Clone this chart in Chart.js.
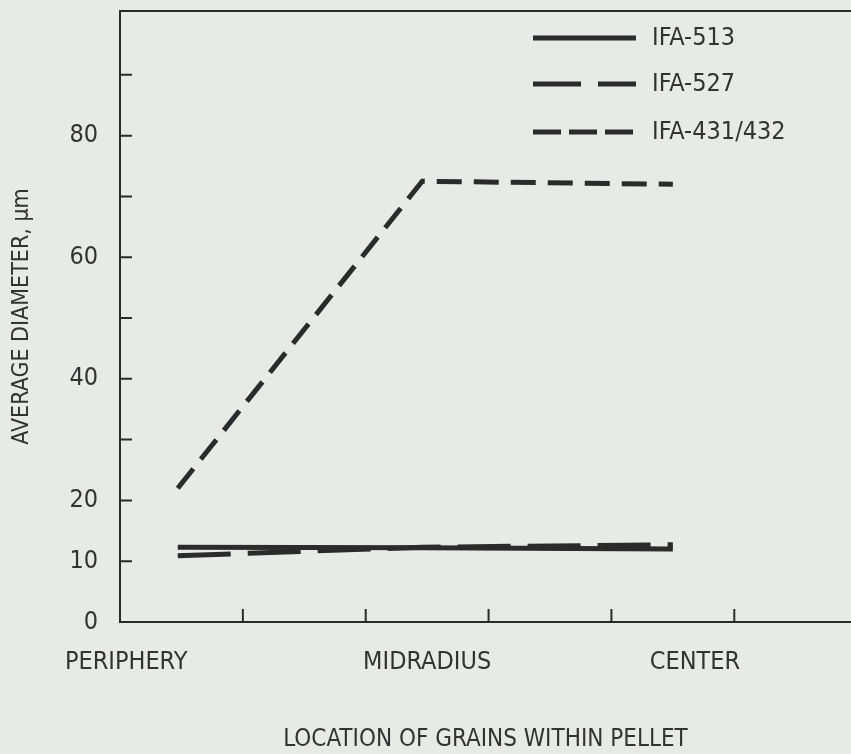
<!DOCTYPE html>
<html>
<head>
<meta charset="utf-8">
<script src="https://cdn.jsdelivr.net/npm/chart.js@4/dist/chart.umd.min.js"></script>
<style>
  html, body { margin: 0; padding: 0; background: #e8eae5; }
  #wrap { width: 851px; height: 754px; }
</style>
</head>
<body>
<div id="wrap"><canvas id="grainChart" width="851" height="754"></canvas></div>
<script>
// 位置 (x 軸) 與數值
const locationLabels = ['PERIPHERY', 'MIDRADIUS', 'CENTER'];
const labelPositions = [0.05, 2.5, 4.68];
const pointPositions = [0.47, 2.46, 4.5];
const ifa513 = [12.3, 12.2, 12.0];
const ifa527 = [10.9, 12.3, 12.7];
const ifa431 = [22, 72.5, 72];
const seriesNames = ['IFA-513', 'IFA-527', 'IFA-431/432'];
const yTickLabels = [0, 10, 20, 40, 60, 80];
const yTickMarks = [10, 20, 30, 40, 50, 60, 70, 80, 90];
const xTickMarks = [1, 2, 3, 4, 5];

const ink = '#2b2b2b';
const fontFamily = "'Liberation Sans Narrow', 'DejaVu Sans Condensed', 'DejaVu Sans', sans-serif";

function toPoints(values) {
    return values.map((v, i) => ({ x: pointPositions[i], y: v }));
}

// 畫內側刻度、上框線、圖例
const framePlugin = {
    id: 'frame',
    afterDraw(chart) {
        const ctx = chart.ctx;
        const xs = chart.scales.x;
        const ys = chart.scales.y;
        const area = chart.chartArea;
        ctx.save();
        ctx.strokeStyle = ink;
        ctx.lineWidth = 2;
        ctx.beginPath();
        ctx.moveTo(area.left, area.top);
        ctx.lineTo(area.right, area.top);
        yTickMarks.forEach(v => {
            const py = ys.getPixelForValue(v);
            ctx.moveTo(area.left, py);
            ctx.lineTo(area.left + 12, py);
        });
        xTickMarks.forEach(v => {
            const px = xs.getPixelForValue(v);
            ctx.moveTo(px, area.bottom);
            ctx.lineTo(px, area.bottom - 13);
        });
        ctx.stroke();

        // 圖例
        const rows = [38, 84, 132];
        chart.data.datasets.forEach((ds, i) => {
            ctx.lineWidth = 5;
            ctx.setLineDash(i === 1 ? [48, 17] : i === 2 ? [28, 8] : []);
            ctx.beginPath();
            ctx.moveTo(533, rows[i]);
            ctx.lineTo(636, rows[i]);
            ctx.stroke();
            ctx.setLineDash([]);
            ctx.fillStyle = '#333';
            ctx.font = '25px ' + fontFamily;
            ctx.textBaseline = 'middle';
            ctx.fillText(ds.label, 652, rows[i]);
        });
        ctx.restore();
    }
};

const lineStyle = {
    borderColor: ink,
    borderWidth: 5,
    pointRadius: 0,
    fill: false,
    tension: 0,
    borderCapStyle: 'butt'
};

new Chart(document.getElementById('grainChart'), {
    type: 'line',
    data: {
        datasets: [
            Object.assign({ label: seriesNames[0], data: toPoints(ifa513) }, lineStyle),
            Object.assign({ label: seriesNames[1], data: toPoints(ifa527), borderDash: [53, 17] }, lineStyle),
            Object.assign({ label: seriesNames[2], data: toPoints(ifa431), borderDash: [25, 12] }, lineStyle)
        ]
    },
    options: {
        responsive: false,
        animation: false,
        layout: { padding: { top: 11, right: 0, bottom: 0, left: 0 } },
        plugins: {
            legend: { display: false },
            tooltip: { enabled: false }
        },
        scales: {
            x: {
                type: 'linear',
                min: 0,
                max: 5.95,
                grid: { display: false, drawTicks: false },
                border: { display: true, color: ink, width: 2 },
                afterBuildTicks: scale => {
                    scale.ticks = labelPositions.map(v => ({ value: v }));
                },
                afterFit: scale => {
                    scale.height = 132;
                    scale.paddingLeft = 0;
                    scale.paddingRight = 0;
                },
                ticks: {
                    autoSkip: false,
                    maxRotation: 0,
                    padding: 25,
                    color: '#333',
                    font: { family: fontFamily, size: 25 },
                    callback: (value, index) => locationLabels[index]
                },
                title: {
                    display: true,
                    text: 'LOCATION OF GRAINS WITHIN PELLET',
                    color: '#333',
                    font: { family: fontFamily, size: 24 },
                    padding: { top: 0, bottom: 0 }
                }
            },
            y: {
                min: 0,
                max: 100.5,
                grid: { display: false, drawTicks: false },
                border: { display: true, color: ink, width: 2 },
                afterBuildTicks: scale => {
                    scale.ticks = yTickLabels.map(v => ({ value: v }));
                },
                afterFit: scale => {
                    scale.width = 120;
                    scale.paddingTop = 0;
                    scale.paddingBottom = 0;
                },
                ticks: {
                    padding: 22,
                    color: '#333',
                    font: { family: fontFamily, size: 25 }
                },
                title: {
                    display: true,
                    text: 'AVERAGE DIAMETER, μm',
                    color: '#333',
                    font: { family: fontFamily, size: 23 },
                    padding: { top: 8, bottom: 0 }
                }
            }
        }
    },
    plugins: [framePlugin]
});
</script>
</body>
</html>
